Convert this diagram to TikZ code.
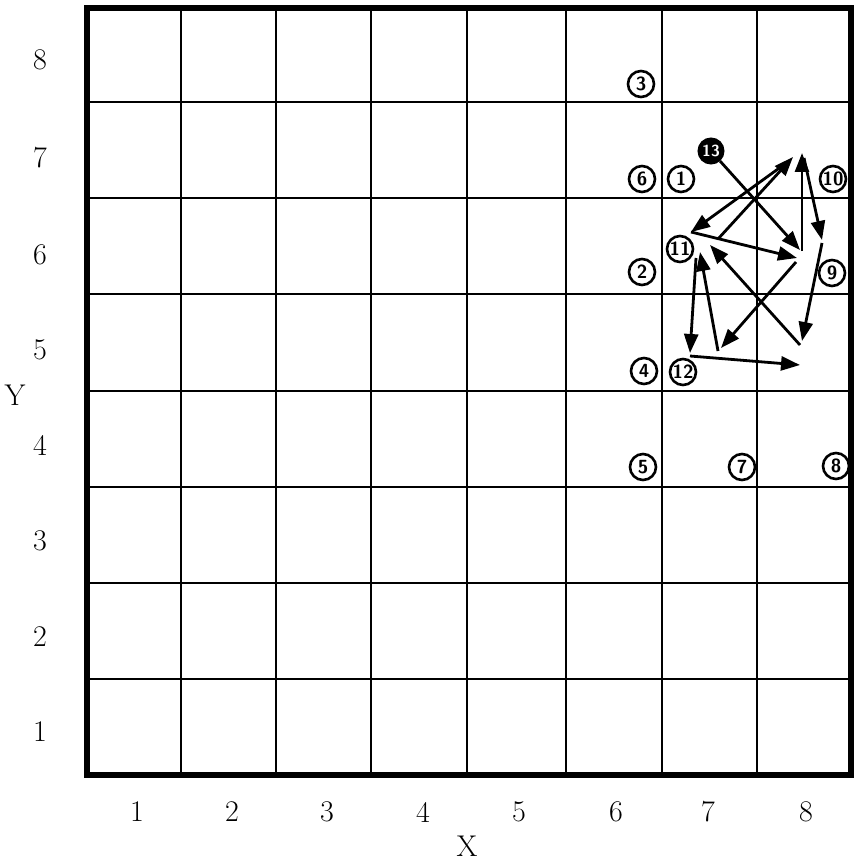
\documentclass[tikz,border=0pt]{standalone}
\usetikzlibrary{arrows.meta}
\begin{document}
\begin{tikzpicture}[x=1pt,y=-1pt,
  gridline/.style={line width=2.2pt},
  frameline/.style={line width=5.5pt},
  axlabel/.style={font=\fontsize{30}{31}\selectfont, inner sep=0pt},
  circ/.style={circle, draw, line width=2.6pt, minimum size=26pt, inner sep=0pt, font=\sffamily\bfseries\fontsize{19}{19}\selectfont},
  fcirc/.style={circle, fill=black, draw, line width=2pt, minimum size=25pt, inner sep=0pt, text=white, font=\sffamily\bfseries\fontsize{16}{16}\selectfont},
  mv/.style={line width=2.8pt, -{Triangle[length=19pt,width=14pt]}}]
\useasboundingbox (0,0) rectangle (859,861);
% grid
\foreach \x in {181,276,371,467,566,662,757}
  \draw[gridline] (\x,8) -- (\x,775);
\foreach \y in {102,198,294,391,487,583,679}
  \draw[gridline] (87,\y) -- (851,\y);
\draw[frameline] (87,8) rectangle (851,775);
% axis labels
\foreach \x/\t in {137/1,232/2,327/3,423/4,519/5,616/6,708/7,806/8}
  \node[axlabel] (xl\t) at (\x,812) {\t};
\node[axlabel] (xlab) at (467,846) {X};
\foreach \y/\t in {60/8,158/7,255/6,350/5,445/4,541/3,637/2,732/1}
  \node[axlabel] (yl\t) at (40,\y) {\t};
\node[axlabel] (ylab) at (15,395) {Y};
% circled numbers
\node[circ] (n3) at (641,84) {3};
\node[circ] (n6) at (642,179) {6};
\node[circ] (n1) at (681,179) {1};
\node[circ] (n10) at (833,179) {10};
\node[circ] (n11) at (680,249) {11};
\node[circ] (n2) at (642,272) {2};
\node[circ] (n9) at (832,273) {9};
\node[circ] (n4) at (644,371) {4};
\node[circ] (n12) at (683,372) {12};
\node[circ] (n5) at (643,467) {5};
\node[circ] (n7) at (742,467) {7};
\node[circ] (n8) at (836,466) {8};
\node[fcirc] (n13) at (711,151) {13};
% path points
\coordinate (a) at (800,250);
\coordinate (a2) at (802,251);
\coordinate (b) at (802,153);
\coordinate (b2) at (804,158);
\coordinate (c) at (822,240);
\coordinate (c2) at (822,243);
\coordinate (d) at (802,341);
\coordinate (d2) at (800,345);
\coordinate (e) at (710,245);
\coordinate (e2) at (718,239);
\coordinate (f) at (793,157);
\coordinate (f2) at (789,161);
\coordinate (g) at (691,232);
\coordinate (h) at (797,258);
\coordinate (h2) at (796,262);
\coordinate (i) at (721,348);
\coordinate (i2) at (718,351);
\coordinate (j) at (700,252);
\coordinate (j2) at (696,258);
\coordinate (k) at (690,353);
\coordinate (k2) at (690,356);
\coordinate (l) at (800,365);
% moves
\draw[mv] (n13) -- (a);
\draw[mv] (a2) -- (b);
\draw[mv] (b2) -- (c);
\draw[mv] (c2) -- (d);
\draw[mv] (d2) -- (e);
\draw[mv] (e2) -- (f);
\draw[mv] (f2) -- (g);
\draw[mv] (g) -- (h);
\draw[mv] (h2) -- (i);
\draw[mv] (i2) -- (j);
\draw[mv] (j2) -- (k);
\draw[mv] (k2) -- (l);
\end{tikzpicture}
\end{document}
